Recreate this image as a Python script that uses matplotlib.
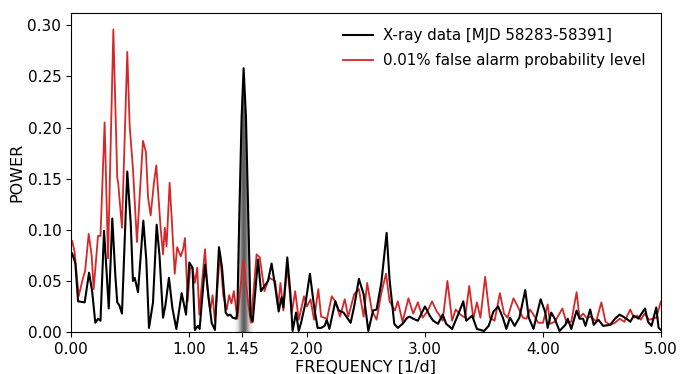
import numpy as np
import matplotlib
matplotlib.use("Agg")
import matplotlib.pyplot as plt
from matplotlib.patches import Polygon

# periodogram
freq_black = [0.00, 0.01, 0.037, 0.06, 0.116, 0.153, 0.18, 0.206, 0.229, 0.25, 0.28, 0.30, 0.32, 0.35,
              0.376, 0.392, 0.41, 0.432, 0.477, 0.506, 0.525, 0.54, 0.568, 0.613, 0.638, 0.661, 0.695,
              0.726, 0.75, 0.78, 0.80, 0.83, 0.86, 0.893, 0.938, 0.975, 1.003, 1.03, 1.05, 1.075, 1.09,
              1.136, 1.17, 1.192, 1.22, 1.254, 1.28, 1.311, 1.33, 1.35, 1.37, 1.40, 1.41, 1.426, 1.446,
              1.463, 1.483, 1.503, 1.522, 1.54, 1.585, 1.61, 1.64, 1.67, 1.70, 1.73, 1.76, 1.785, 1.80,
              1.833, 1.86, 1.878, 1.907, 1.93, 1.95, 1.99, 2.025, 2.06, 2.09, 2.12, 2.15, 2.167, 2.19,
              2.24, 2.27, 2.31, 2.37, 2.40, 2.44, 2.48, 2.52, 2.56, 2.59, 2.63, 2.675, 2.70, 2.74, 2.77,
              2.81, 2.85, 2.87, 2.90, 2.94, 3.00, 3.04, 3.07, 3.11, 3.15, 3.18, 3.23, 3.27, 3.325, 3.35,
              3.40, 3.44, 3.50, 3.54, 3.58, 3.62, 3.66, 3.69, 3.72, 3.76, 3.80, 3.85, 3.88, 3.92, 3.94,
              3.98, 4.02, 4.04, 4.07, 4.10, 4.14, 4.19, 4.21, 4.24, 4.285, 4.31, 4.34, 4.36, 4.40, 4.43,
              4.47, 4.51, 4.57, 4.61, 4.65, 4.68, 4.72, 4.74, 4.77, 4.81, 4.83, 4.865, 4.89, 4.92, 4.96,
              4.98, 5.00]
power_black = [0.078, 0.077, 0.067, 0.030, 0.029, 0.058, 0.039, 0.009, 0.013, 0.011, 0.099, 0.062, 0.023,
               0.111, 0.055, 0.029, 0.026, 0.018, 0.157, 0.107, 0.050, 0.053, 0.039, 0.109, 0.071, 0.004,
               0.029, 0.105, 0.075, 0.014, 0.026, 0.053, 0.023, 0.003, 0.038, 0.017, 0.068, 0.063, 0.002,
               0.006, 0.003, 0.066, 0.030, 0.009, 0.002, 0.083, 0.063, 0.019, 0.016, 0.017, 0.014, 0.013,
               0.020, 0.112, 0.210, 0.258, 0.210, 0.112, 0.016, 0.010, 0.071, 0.040, 0.045, 0.050, 0.067,
               0.045, 0.020, 0.034, 0.024, 0.073, 0.037, 0.001, 0.019, 0.001, 0.009, 0.030, 0.057, 0.025,
               0.004, 0.004, 0.006, 0.012, 0.003, 0.030, 0.021, 0.019, 0.009, 0.025, 0.052, 0.037, 0.001,
               0.021, 0.022, 0.048, 0.097, 0.051, 0.008, 0.004, 0.008, 0.014, 0.015, 0.013, 0.011, 0.025,
               0.016, 0.011, 0.008, 0.017, 0.008, 0.003, 0.014, 0.030, 0.011, 0.016, 0.003, 0.001, 0.006,
               0.020, 0.025, 0.014, 0.003, 0.014, 0.006, 0.014, 0.041, 0.014, 0.003, 0.013, 0.032, 0.019,
               0.004, 0.019, 0.013, 0.001, 0.007, 0.013, 0.003, 0.021, 0.013, 0.013, 0.006, 0.022, 0.007,
               0.012, 0.006, 0.007, 0.013, 0.017, 0.015, 0.012, 0.010, 0.016, 0.013, 0.017, 0.023, 0.010,
               0.006, 0.024, 0.004, 0.002]

freq_red = [0.00, 0.01, 0.03, 0.065, 0.10, 0.12, 0.15, 0.175, 0.192, 0.229, 0.25, 0.285, 0.314, 0.359,
            0.392, 0.40, 0.432, 0.477, 0.497, 0.525, 0.559, 0.61, 0.635, 0.653, 0.675, 0.703, 0.723, 0.76,
            0.78, 0.795, 0.81, 0.836, 0.856, 0.879, 0.90, 0.93, 0.95, 0.966, 0.989, 1.01, 1.03, 1.05, 1.07,
            1.087, 1.10, 1.136, 1.16, 1.18, 1.20, 1.22, 1.263, 1.29, 1.32, 1.34, 1.36, 1.38, 1.41, 1.46,
            1.50, 1.525, 1.573, 1.60, 1.64, 1.68, 1.73, 1.755, 1.775, 1.80, 1.833, 1.87, 1.90, 1.93,
            1.975, 2.00, 2.03, 2.06, 2.096, 2.12, 2.17, 2.21, 2.24, 2.28, 2.32, 2.35, 2.40, 2.44, 2.48,
            2.51, 2.55, 2.59, 2.63, 2.67, 2.70, 2.745, 2.77, 2.81, 2.86, 2.90, 2.94, 2.98, 3.02, 3.06,
            3.10, 3.12, 3.15, 3.19, 3.23, 3.26, 3.30, 3.34, 3.375, 3.41, 3.44, 3.47, 3.51, 3.55, 3.59,
            3.635, 3.67, 3.70, 3.75, 3.79, 3.83, 3.86, 3.89, 3.92, 3.96, 4.00, 4.04, 4.06, 4.10, 4.165,
            4.20, 4.24, 4.285, 4.31, 4.34, 4.37, 4.41, 4.45, 4.495, 4.53, 4.57, 4.61, 4.65, 4.69, 4.74,
            4.77, 4.80, 4.83, 4.86, 4.90, 4.93, 4.96, 5.00]
power_red = [0.090, 0.089, 0.079, 0.035, 0.052, 0.060, 0.096, 0.075, 0.042, 0.094, 0.094, 0.205, 0.072,
             0.296, 0.151, 0.146, 0.102, 0.274, 0.202, 0.160, 0.088, 0.187, 0.176, 0.132, 0.114, 0.146,
             0.163, 0.101, 0.076, 0.102, 0.084, 0.146, 0.106, 0.057, 0.083, 0.074, 0.081, 0.092, 0.030,
             0.063, 0.062, 0.048, 0.063, 0.017, 0.036, 0.081, 0.037, 0.021, 0.036, 0.011, 0.078, 0.036,
             0.022, 0.036, 0.028, 0.040, 0.013, 0.071, 0.030, 0.009, 0.076, 0.073, 0.040, 0.053, 0.050,
             0.025, 0.048, 0.021, 0.065, 0.018, 0.040, 0.012, 0.035, 0.025, 0.032, 0.012, 0.042, 0.015,
             0.013, 0.035, 0.030, 0.015, 0.032, 0.015, 0.037, 0.042, 0.015, 0.048, 0.021, 0.012, 0.038,
             0.057, 0.030, 0.021, 0.030, 0.010, 0.033, 0.018, 0.029, 0.014, 0.020, 0.030, 0.020, 0.017,
             0.011, 0.050, 0.011, 0.022, 0.017, 0.014, 0.045, 0.013, 0.029, 0.014, 0.054, 0.014, 0.011,
             0.038, 0.018, 0.014, 0.033, 0.024, 0.014, 0.013, 0.022, 0.017, 0.009, 0.009, 0.027, 0.008,
             0.010, 0.023, 0.009, 0.010, 0.039, 0.014, 0.018, 0.014, 0.015, 0.010, 0.029, 0.010, 0.007,
             0.009, 0.013, 0.010, 0.022, 0.014, 0.016, 0.012, 0.018, 0.012, 0.013, 0.014, 0.030]

peak_freq = 1.463
x_ticks = [0.0, 1.0, 1.45, 2.0, 3.0, 4.0, 5.0]
y_ticks = [0.00, 0.05, 0.10, 0.15, 0.20, 0.25, 0.30]

fig = plt.figure(figsize=(6.8, 3.74), dpi=100)
ax = fig.add_axes([0.1044, 0.1123, 0.8676, 0.8527])

# grey gradient band at the detected frequency, kept under the black curve
xs = np.linspace(peak_freq - 0.09, peak_freq + 0.09, 200)
weight = np.exp(-((xs - peak_freq) / 0.04) ** 2)
rgba = np.zeros((1, len(xs), 4))
rgba[..., :3] = 0.25
rgba[0, :, 3] = 0.85 * weight
im = ax.imshow(rgba, extent=[xs[0], xs[-1], 0, 0.3], aspect="auto", origin="lower",
               interpolation="bilinear", zorder=1)
clip = Polygon(np.column_stack([freq_black + [freq_black[-1], freq_black[0]],
                                power_black + [0, 0]]),
               closed=True, transform=ax.transData, facecolor="none", edgecolor="none")
im.set_clip_path(clip)

ax.plot(freq_black, power_black, color="black", lw=1.5, zorder=3,
        label="X-ray data [MJD 58283-58391]")
ax.plot(freq_red, power_red, color="#d62728", lw=1.3, zorder=2,
        label="0.01% false alarm probability level")

ax.set_xlim(0, 5)
ax.set_ylim(0, 0.312)
ax.set_xticks(x_ticks)
ax.set_xticklabels(["%.2f" % t for t in x_ticks])
ax.set_yticks(y_ticks)
ax.set_yticklabels(["%.2f" % t for t in y_ticks])
ax.tick_params(labelsize=11)
ax.set_xlabel("FREQUENCY [1/d]", fontsize=11.5, labelpad=2)
ax.set_ylabel("POWER", fontsize=11.5, labelpad=2)
ax.legend(loc="upper right", frameon=False, fontsize=10.8, labelspacing=0.65,
          handlelength=2.0, handletextpad=0.7, borderaxespad=0.6)

fig.savefig("out.png", dpi=100)
